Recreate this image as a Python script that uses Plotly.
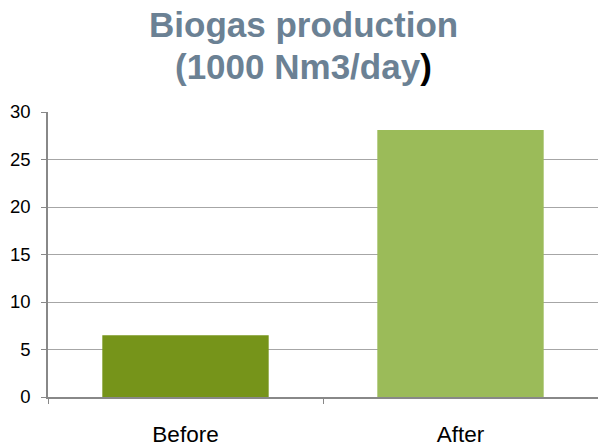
import plotly.graph_objects as go

# Biogas output before and after the upgrade, thousand Nm3 per day
categories = ["Before", "After"]
production = [6.5, 28.1]
bar_colors = ["#76941A", "#9BBB59"]
y_ticks = [0, 5, 10, 15, 20, 25, 30]

title_lines = [
    "<b>Biogas production</b>",
    "<b>(1000 Nm3/day</b><b><span style='color:black'>)</span></b>",
]

fig = go.Figure(
    go.Bar(
        x=categories,
        y=production,
        marker=dict(color=bar_colors, line=dict(width=0)),
        width=0.605,
        hoverinfo="skip",
    )
)

title_color = "#6B8194"
title_font = dict(size=35, color=title_color, family="Liberation Sans, Arial, sans-serif")

# Plot area spans y = 112..397 px, so paper units are 285 px tall
plot_top, plot_bottom = 112, 397
for line, baseline_px in zip(title_lines, [37, 79]):
    bottom_px = baseline_px + 8
    fig.add_annotation(
        text=line,
        xref="paper",
        yref="paper",
        x=(303 - 48) / 550,
        y=(plot_bottom - bottom_px) / (plot_bottom - plot_top),
        xanchor="center",
        yanchor="bottom",
        showarrow=False,
        font=title_font,
        borderpad=0,
    )

fig.update_layout(
    width=598,
    height=446,
    margin=dict(l=48, r=0, t=112, b=49),
    paper_bgcolor="white",
    plot_bgcolor="white",
    showlegend=False,
    font=dict(family="Liberation Sans, Arial, sans-serif", color="black"),
    xaxis=dict(
        type="category",
        showgrid=False,
        showline=True,
        linecolor="#888888",
        linewidth=1.5,
        ticks="outside",
        tickson="boundaries",
        ticklen=5,
        tickcolor="#888888",
        tickwidth=1,
        ticklabelstandoff=16,
        tickfont=dict(size=22.5, color="black"),
        range=[-0.5, 1.5],
        fixedrange=True,
    ),
    yaxis=dict(
        range=[0, 30],
        tickvals=y_ticks,
        showgrid=True,
        gridcolor="#A6A6A6",
        gridwidth=1.2,
        zeroline=False,
        showline=True,
        linecolor="#888888",
        linewidth=1.5,
        ticks="outside",
        ticklen=5,
        tickcolor="#888888",
        tickwidth=1,
        ticklabelstandoff=7,
        tickfont=dict(size=18.5, color="black"),
        fixedrange=True,
    ),
)

fig.write_html("out.html")
